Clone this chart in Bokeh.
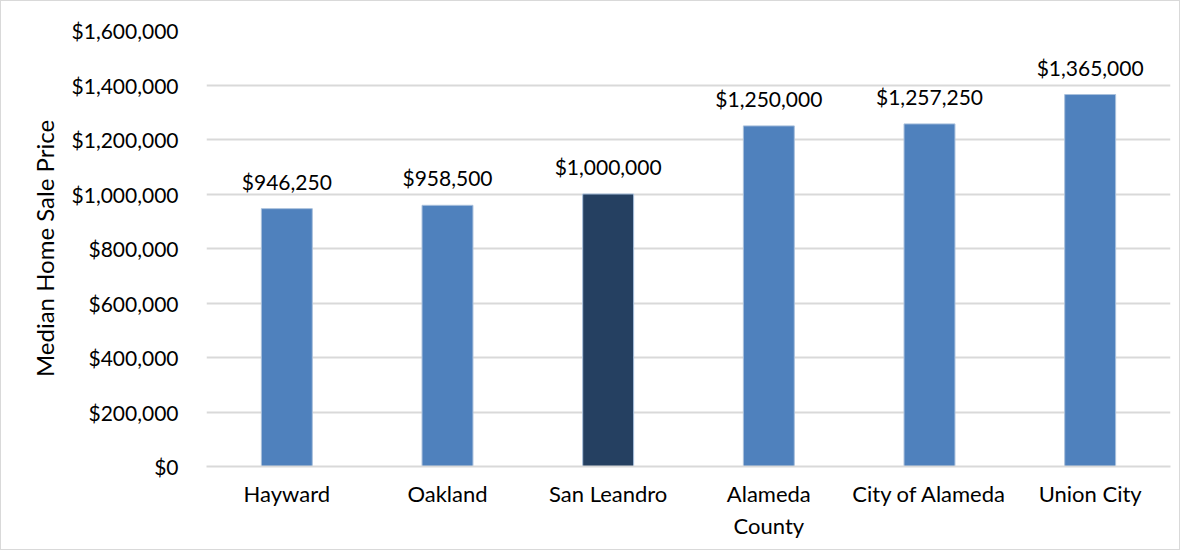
from bokeh.plotting import figure
from bokeh.models import ColumnDataSource, NumeralTickFormatter, Range1d, SingleIntervalTicker, FixedTicker
from bokeh.core.properties import value
from bokeh.embed import file_html
from bokeh.resources import INLINE

categories = ["Hayward", "Oakland", "San Leandro", "Alameda County", "City of Alameda", "Union City"]
tick_labels = ["Hayward", "Oakland", "San Leandro", "Alameda\nCounty", "City of Alameda", "Union City"]
prices = [946250, 958500, 1000000, 1250000, 1257250, 1365000]
price_labels = ["$946,250", "$958,500", "$1,000,000", "$1,250,000", "$1,257,250", "$1,365,000"]
bar_colors = ["#4f81bd", "#4f81bd", "#254061", "#4f81bd", "#4f81bd", "#4f81bd"]

FONT = "Lato"
FS = "21px"

idx = list(range(len(categories)))
src = ColumnDataSource(dict(x=idx, cat=categories, price=prices, lab=price_labels, color=bar_colors))

p = figure(x_range=Range1d(-0.5, len(categories) - 0.5),
           y_range=Range1d(0, 1600000),
           width=1180, height=550, output_backend="svg", toolbar_location=None,
           min_border_left=205, min_border_right=11, min_border_top=29, min_border_bottom=85)
p.styles = {"border": "1px solid #d9d9d9"}

p.vbar(x="x", top="price", width=0.317, source=src, fill_color="color",
       line_color="#a9c0dc", line_width=1)
p.text(x="x", y="price", text="lab", source=src, text_align="center", text_baseline="bottom",
       y_offset=-15, text_font=value(FONT), text_font_size=FS, text_color="#000000")

p.outline_line_color = None
p.xgrid.grid_line_color = None
p.ygrid.grid_line_color = "#d9d9d9"
p.ygrid.grid_line_width = 2
p.yaxis.ticker = SingleIntervalTicker(interval=200000)
p.yaxis.formatter = NumeralTickFormatter(format="$0,0")
p.yaxis.axis_line_color = None
p.yaxis.major_tick_line_color = None
p.yaxis.minor_tick_line_color = None
p.yaxis.major_label_standoff = 22
p.yaxis.axis_label = "Median Home Sale Price"
p.yaxis.axis_label_standoff = 10
p.yaxis.axis_label_text_font_style = "normal"

p.xaxis.ticker = FixedTicker(ticks=idx, minor_ticks=[])
p.xaxis.major_label_overrides = {i: t for i, t in zip(idx, tick_labels)}
p.xaxis.axis_line_color = "#d9d9d9"
p.xaxis.axis_line_width = 2
p.xaxis.major_tick_line_color = None
p.xaxis.minor_tick_line_color = None
p.xaxis.major_label_standoff = 7

for ax in (p.xaxis, p.yaxis):
    ax.major_label_text_font = FONT
    ax.major_label_text_color = "#000000"
    ax.axis_label_text_font = FONT
    ax.axis_label_text_color = "#000000"
p.yaxis.major_label_text_font_size = FS
p.xaxis.major_label_text_font_size = "22px"
p.yaxis.axis_label_text_font_size = "24px"

open("out.html", "w").write(file_html(p, INLINE))
